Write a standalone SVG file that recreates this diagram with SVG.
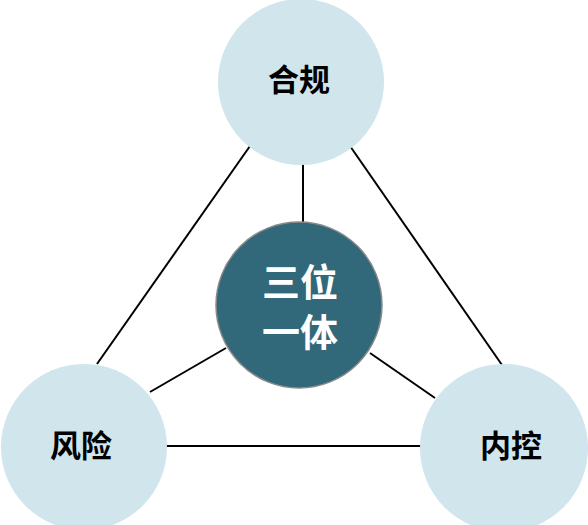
<svg xmlns="http://www.w3.org/2000/svg" width="588" height="525" viewBox="0 0 588 525">
<style>
.lt{fill:#D0E5EC}
.ln{stroke:#000;stroke-width:2;fill:none}
.t{font-family:"Noto Sans CJK SC","Noto Sans",sans-serif;font-weight:bold;text-anchor:middle}
</style>
<rect width="588" height="525" fill="#fff"/>
<g id="connectors">
<line class="ln" x1="250" y1="146" x2="97" y2="364"/>
<line class="ln" x1="350" y1="146" x2="502" y2="365"/>
<line class="ln" x1="303" y1="160" x2="303" y2="224"/>
<line class="ln" x1="226" y1="348" x2="150" y2="392"/>
<line class="ln" x1="370" y1="353" x2="435" y2="398"/>
<line class="ln" x1="166" y1="446" x2="421" y2="446"/>
</g>
<g id="node-hegui">
<circle class="lt" cx="301" cy="82" r="83"/>
<text class="t" x="299" y="91" font-size="31" fill="#000">合规</text>
</g>
<g id="node-center">
<circle cx="299" cy="305" r="83" fill="#31687A" stroke="#8a8a8a" stroke-width="1.5"/>
<text class="t" x="300" y="296" font-size="38" fill="#fff">三位</text>
<text class="t" x="300" y="346" font-size="38" fill="#fff">一体</text>
</g>
<g id="node-fengxian">
<circle class="lt" cx="84" cy="447" r="83"/>
<text class="t" x="81" y="457" font-size="31" fill="#000">风险</text>
</g>
<g id="node-neikong">
<circle class="lt" cx="504" cy="448" r="84"/>
<text class="t" x="511" y="457" font-size="31" fill="#000">内控</text>
</g>
</svg>
